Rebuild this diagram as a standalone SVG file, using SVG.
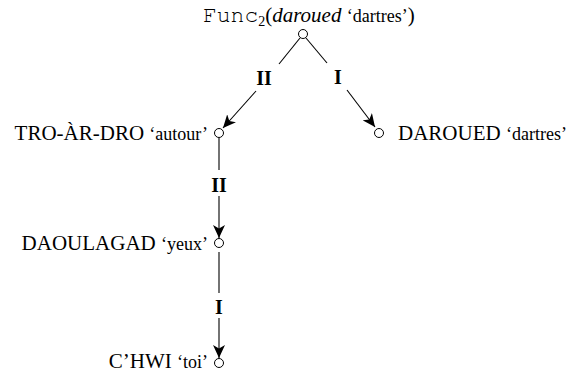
<svg xmlns="http://www.w3.org/2000/svg" width="568" height="373" viewBox="0 0 568 373">
<style>
text{font-family:"Liberation Serif","Times New Roman",serif;font-size:21px;fill:#000}
.g{font-size:18px}
.lab{font-weight:bold;font-size:20px;text-anchor:middle}
.mono{font-family:"Nimbus Mono PS","FreeMono","Courier New","Liberation Mono",monospace}
circle{fill:#fff;stroke:#000;stroke-width:1}
line{stroke:#000;stroke-width:1.1}
</style>
<defs>
<marker id="ah" markerUnits="userSpaceOnUse" markerWidth="14" markerHeight="12" refX="13" refY="6" orient="auto">
<path d="M0,0 L13,6 L0,12 L3.5,6 z" fill="#000"/>
</marker>
</defs>
<g id="connectors">
<line x1="300" y1="38" x2="279" y2="64"/>
<line x1="256" y1="91" x2="223" y2="128" marker-end="url(#ah)"/>
<line x1="306" y1="38" x2="327" y2="63"/>
<line x1="347" y1="90" x2="375" y2="127" marker-end="url(#ah)"/>
<line x1="219" y1="138" x2="219" y2="170"/>
<line x1="219" y1="196" x2="219" y2="238" marker-end="url(#ah)"/>
<line x1="219" y1="252" x2="219" y2="293"/>
<line x1="219" y1="318" x2="219" y2="358" marker-end="url(#ah)"/>
<text class="lab" x="264" y="85">II</text>
<text class="lab" x="338" y="84">I</text>
<text class="lab" x="219" y="192">II</text>
<text class="lab" x="219" y="314">I</text>
</g>
<g id="n-top">
<circle cx="303" cy="34" r="4.5"/>
<text x="203" y="22"><tspan class="mono" font-size="23">Func</tspan><tspan font-size="14" dy="4">2</tspan><tspan dy="-4">(</tspan><tspan font-style="italic">daroued</tspan> <tspan class="g">‘dartres’</tspan>)</text>
</g>
<g id="n-tro">
<circle cx="219" cy="133" r="4.5"/>
<text x="208" y="140" text-anchor="end">TRO-ÀR-DRO <tspan class="g">‘autour’</tspan></text>
</g>
<g id="n-daroued">
<circle cx="379" cy="133" r="4.5"/>
<text x="398" y="140">DAROUED <tspan class="g">‘dartres’</tspan></text>
</g>
<g id="n-daoulagad">
<circle cx="219" cy="243" r="4.5"/>
<text x="208" y="250" text-anchor="end">DAOULAGAD <tspan class="g">‘yeux’</tspan></text>
</g>
<g id="n-chwi">
<circle cx="219" cy="363" r="4.5"/>
<text x="208" y="368" text-anchor="end">C’HWI <tspan class="g">‘toi’</tspan></text>
</g>
</svg>
